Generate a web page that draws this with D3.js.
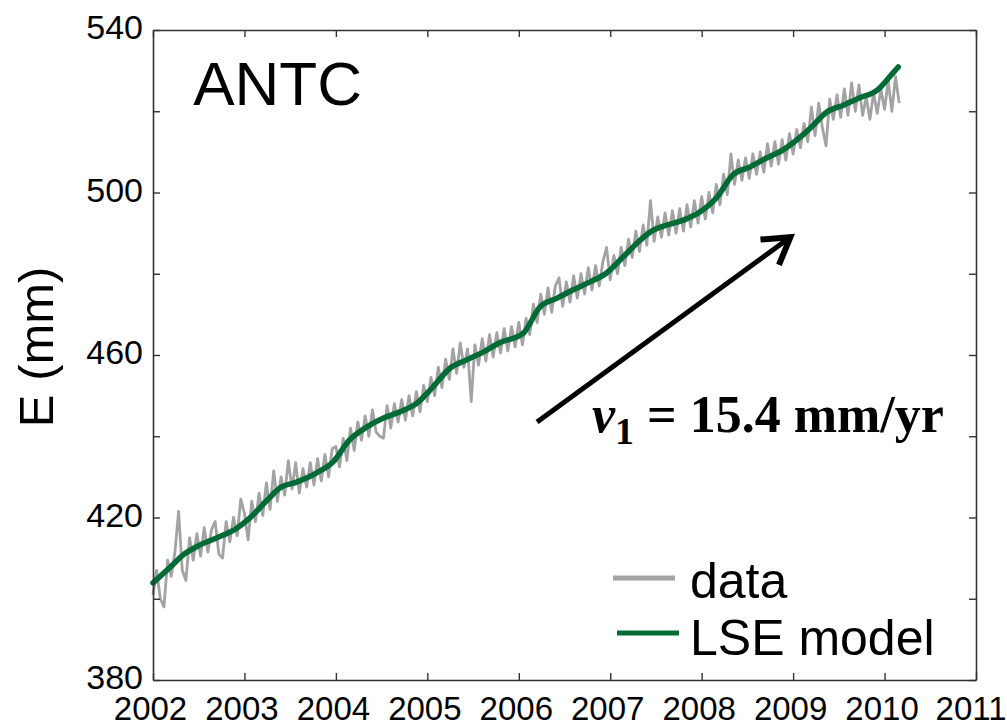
<!DOCTYPE html>
<html>
<head>
<meta charset="utf-8">
<script src="https://cdn.jsdelivr.net/npm/d3@7"></script>
<style>
  body { margin: 0; background: #fff; }
  svg { display: block; }
</style>
</head>
<body>
<div id="viz"></div>
<script>
// x ticks (years) and y ticks (mm); only every other y tick is labelled
const yearTicks = [2002, 2003, 2004, 2005, 2006, 2007, 2008, 2009, 2010, 2011];
const eTicks = [380, 400, 420, 440, 460, 480, 500, 520, 540];
const eLabels = [380, 420, 460, 500, 540];

// LSE model
const modelT = [2002.00, 2002.19, 2002.33, 2002.51, 2002.70, 2002.92, 2003.06, 2003.25, 2003.39, 2003.57,
  2003.79, 2003.97, 2004.15, 2004.34, 2004.52, 2004.70, 2004.89, 2005.06, 2005.25, 2005.43,
  2005.61, 2005.79, 2006.05, 2006.23, 2006.42, 2006.59, 2006.78, 2006.96, 2007.14, 2007.33,
  2007.44, 2007.62, 2007.80, 2007.98, 2008.17, 2008.34, 2008.53, 2008.71, 2008.89, 2009.08,
  2009.19, 2009.37, 2009.55, 2009.73, 2009.92, 2010.09, 2010.15];
const modelE = [403.9, 407.8, 410.8, 413.2, 415.0, 417.4, 419.9, 424.3, 427.3, 428.7,
  431.0, 433.7, 439.1, 442.3, 444.5, 446.0, 448.2, 452.1, 456.8, 458.8,
  460.7, 463.0, 465.4, 471.8, 474.0, 476.0, 478.0, 480.2, 484.1, 488.3,
  490.3, 492.0, 493.2, 495.2, 498.9, 504.3, 506.3, 508.5, 510.5, 513.7,
  515.9, 519.8, 521.5, 523.3, 525.2, 529.4, 530.9];

// GPS data (gray), one value every 0.04 yr from 2002.00, one row per year
const dataStart = 2002.0;
const dataStep = 0.04;
const dataE = [
  401.0, 407.0, 400.0, 398.0, 409.5, 405.5, 411.5, 421.5, 407.0, 404.5, 415.0, 409.5, 416.0,
  410.5, 417.5, 411.5, 417.0, 419.0, 411.0, 410.0, 419.0, 414.0, 420.0, 415.5, 424.5,
  421.0, 414.5, 424.0, 419.0, 426.0, 420.5, 428.5, 422.0, 431.5, 424.0, 430.0, 425.5, 434.0,
  427.0, 433.5, 426.0, 432.0, 427.5, 433.5, 428.0, 434.5, 429.0, 435.5, 430.0, 437.0,
  437.5, 432.5, 439.5, 434.0, 442.0, 436.5, 443.5, 439.0, 445.0, 440.0, 446.5, 441.0, 440.0,
  439.5, 447.5, 442.0, 448.0, 443.5, 449.0, 444.0, 450.0, 445.0, 451.0, 446.0, 452.5,
  448.5, 454.5, 450.0, 457.0, 452.0, 459.0, 454.0, 461.5, 455.5, 463.0, 457.0, 461.5, 448.5,
  462.5, 457.5, 464.0, 458.5, 465.0, 459.5, 465.5, 460.5, 466.5, 461.0, 467.0, 462.0,
  468.0, 462.5, 469.0, 465.0, 472.5, 468.0, 475.0, 470.0, 476.5, 470.5, 477.0, 479.0, 472.0,
  478.0, 473.0, 479.5, 474.0, 480.0, 475.0, 481.5, 476.0, 482.0, 477.0, 483.0, 486.5,
  478.5, 484.5, 480.0, 486.5, 482.0, 488.5, 484.0, 490.5, 485.5, 492.0, 487.0, 498.0, 488.0,
  494.0, 489.0, 495.0, 489.5, 495.5, 490.0, 496.0, 490.5, 497.0, 491.5, 498.0, 492.5,
  499.0, 493.5, 500.0, 495.0, 502.0, 497.0, 504.5, 499.5, 509.5, 502.0, 508.0, 503.0, 508.5,
  503.5, 509.5, 504.5, 510.0, 505.0, 512.0, 506.5, 512.5, 507.0, 513.0, 508.0, 514.5,
  509.5, 515.5, 511.0, 517.0, 512.5, 521.0, 514.0, 522.0, 516.0, 511.5, 523.0, 518.0, 524.0,
  518.5, 525.5, 519.0, 527.0, 520.0, 526.5, 519.0, 523.5, 518.0, 524.5, 519.5, 525.5,
  520.5, 527.5, 520.0, 528.5, 522.0
];

const legendLabels = ['data', 'LSE model'];
const stationName = 'ANTC';

const W = 1007, H = 727;
const margin = {top: 30, right: 31, bottom: 47, left: 153};

const svg = d3.select('#viz')
  .append('svg')
  .attr('width', W)
  .attr('height', H);

const x = d3.scaleLinear().domain([2002, 2011]).range([margin.left, W - margin.right]);
const y = d3.scaleLinear().domain([380, 540]).range([H - margin.bottom, margin.top]);

const font = '"Liberation Sans", Arial, Helvetica, sans-serif';
const axisColor = '#333';
const grayC = '#a3a3a3';
const greenC = '#006b35';

// data and model lines
const dataPts = dataE.map((e, i) => [dataStart + i * dataStep, e]);
const modelPts = modelT.map((t, i) => [t, modelE[i]]);

const line = d3.line()
  .x(d => x(d[0]))
  .y(d => y(d[1]));

svg.append('path')
  .datum(dataPts)
  .attr('d', line)
  .attr('fill', 'none')
  .attr('stroke', grayC)
  .attr('stroke-width', 2.8)
  .attr('stroke-linejoin', 'round');

svg.append('path')
  .datum(modelPts)
  .attr('d', line.curve(d3.curveMonotoneX))
  .attr('fill', 'none')
  .attr('stroke', greenC)
  .attr('stroke-width', 5.5)
  .attr('stroke-linecap', 'round');

// axes, ticks pointing inward on all four sides
const tickLen = 7;
function styleAxis(g, size) {
  g.select('.domain').attr('stroke', axisColor).attr('stroke-width', 1.6);
  g.selectAll('.tick line').attr('stroke', axisColor).attr('stroke-width', 1.4);
  g.selectAll('.tick text').attr('fill', '#000').style('font-family', font).style('font-size', size + 'px');
}

svg.append('g')
  .attr('transform', `translate(0,${H - margin.bottom})`)
  .call(d3.axisBottom(x).tickValues(yearTicks).tickFormat(d3.format('d'))
    .tickSizeInner(-tickLen).tickSizeOuter(0).tickPadding(17))
  .call(g => styleAxis(g, 33))
  .call(g => g.selectAll('.tick text')
    .attr('text-anchor', d => d === 2011 ? 'end' : 'middle')
    .attr('dx', d => d === 2011 ? (W - 1 - x(2011)) : -3));

svg.append('g')
  .attr('transform', `translate(0,${margin.top})`)
  .call(d3.axisTop(x).tickValues(yearTicks).tickFormat('')
    .tickSizeInner(-tickLen).tickSizeOuter(0))
  .call(g => styleAxis(g, 33));

svg.append('g')
  .attr('transform', `translate(${margin.left},0)`)
  .call(d3.axisLeft(y).tickValues(eTicks).tickFormat(d => eLabels.includes(d) ? d : '')
    .tickSizeInner(-tickLen).tickSizeOuter(0).tickPadding(10))
  .call(g => styleAxis(g, 34))
  .call(g => g.selectAll('.tick text').attr('dy', '0.26em'));

svg.append('g')
  .attr('transform', `translate(${W - margin.right},0)`)
  .call(d3.axisRight(y).tickValues(eTicks).tickFormat('')
    .tickSizeInner(-tickLen).tickSizeOuter(0))
  .call(g => styleAxis(g, 34));

// y axis title
svg.append('text')
  .attr('transform', `translate(53,${y(462)}) rotate(-90)`)
  .attr('text-anchor', 'middle')
  .style('font-family', font)
  .style('font-size', '49px')
  .text('E (mm)');

// station name
svg.append('text')
  .attr('x', x(2002.44))
  .attr('y', 105)
  .style('font-family', font)
  .style('font-size', '62px')
  .text(stationName);

// legend
const legend = svg.append('g');
const legendRows = [
  {label: legendLabels[0], color: grayC, x0: 613, y: 578, base: 598},
  {label: legendLabels[1], color: greenC, x0: 617, y: 633, base: 655}
];
legendRows.forEach(r => {
  legend.append('line')
    .attr('x1', r.x0).attr('x2', r.x0 + 62)
    .attr('y1', r.y).attr('y2', r.y)
    .attr('stroke', r.color)
    .attr('stroke-width', 5);
  legend.append('text')
    .attr('x', 690)
    .attr('y', r.base)
    .style('font-family', font)
    .style('font-size', '50px')
    .text(r.label);
});

// velocity arrow and label
const arrowFrom = [2006.20, 443.5];
const arrowTo = [2008.97, 489.0];
const ax0 = x(arrowFrom[0]), ay0 = y(arrowFrom[1]);
const ax1 = x(arrowTo[0]), ay1 = y(arrowTo[1]);
const ang = Math.atan2(ay1 - ay0, ax1 - ax0);
const headLen = 30, headAng = 0.55;

svg.append('line')
  .attr('x1', ax0).attr('y1', ay0)
  .attr('x2', ax1 - 3 * Math.cos(ang)).attr('y2', ay1 - 3 * Math.sin(ang))
  .attr('stroke', '#000')
  .attr('stroke-width', 5);

svg.append('path')
  .attr('d', d3.line()([
    [ax1 - headLen * Math.cos(ang - headAng), ay1 - headLen * Math.sin(ang - headAng)],
    [ax1, ay1],
    [ax1 - headLen * Math.cos(ang + headAng), ay1 - headLen * Math.sin(ang + headAng)]
  ]))
  .attr('fill', 'none')
  .attr('stroke', '#000')
  .attr('stroke-width', 6)
  .attr('stroke-linejoin', 'miter');

const vel = svg.append('text')
  .attr('x', 592)
  .attr('y', 432)
  .style('font-family', '"Liberation Serif", "Times New Roman", serif')
  .style('font-weight', 'bold')
  .style('font-size', '52px');
vel.append('tspan').style('font-style', 'italic').text('v');
vel.append('tspan').attr('dy', 12).style('font-size', '38px').text('1');
vel.append('tspan').attr('dy', -12).text(' = 15.4 mm/yr');
</script>
</body>
</html>
